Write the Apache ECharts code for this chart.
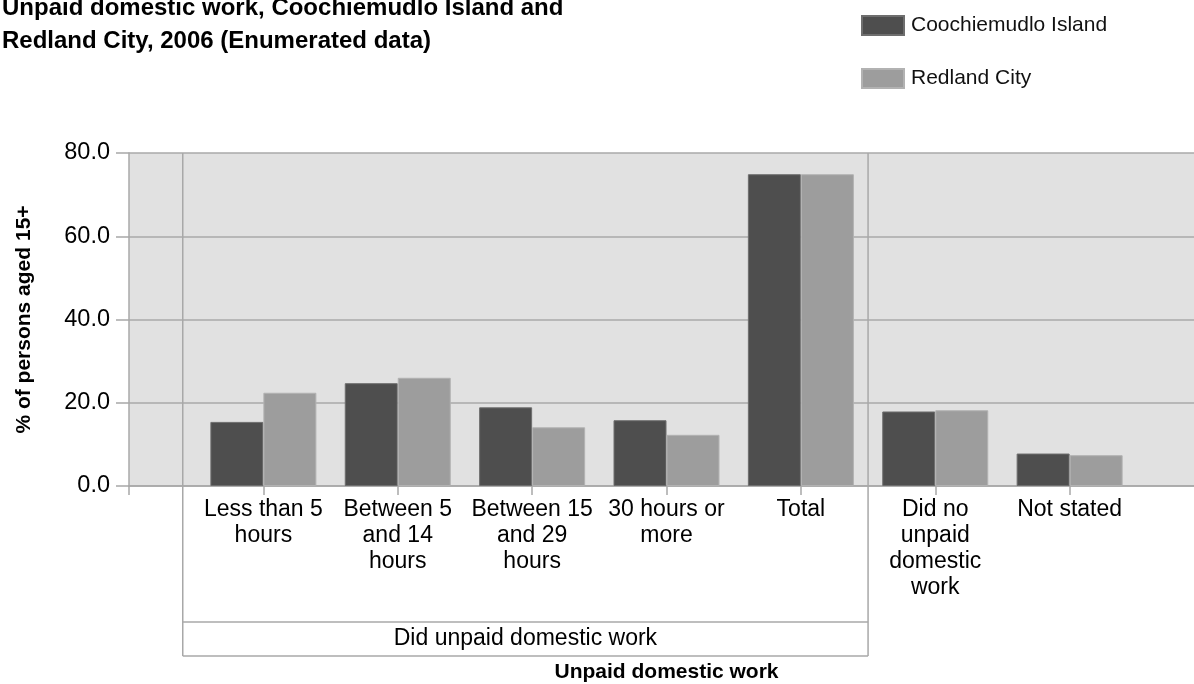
<!DOCTYPE html>
<html>
<head>
<meta charset="utf-8">
<script src="https://cdn.jsdelivr.net/npm/echarts@6/dist/echarts.min.js"></script>
<style>
html,body{margin:0;padding:0;background:#fff;overflow:hidden;width:1194px;height:684px;}
#c{width:1230px;height:684px;}
</style>
</head>
<body>
<div id="c"></div>
<script>
const titleText = 'Unpaid domestic work, Coochiemudlo Island and\nRedland City, 2006 (Enumerated data)';
const categories = ['', 'Less than 5\nhours', 'Between 5\nand 14\nhours', 'Between 15\nand 29\nhours', '30 hours or\nmore', 'Total', 'Did no\nunpaid\ndomestic\nwork', 'Not stated', ''];
const seriesNames = ['Coochiemudlo Island', 'Redland City'];
const coochiemudlo = [null, 15.4, 24.7, 18.9, 15.8, 74.9, 17.9, 7.8, null];
const redland = [null, 22.4, 26.0, 14.1, 12.3, 74.9, 18.2, 7.4, null];
const yMin = 0, yMax = 80, yStep = 20;
const groupLabel = 'Did unpaid domestic work';
const groupFirst = 1, groupLast = 5;
const yName = '% of persons aged 15+';
const xName = 'Unpaid domestic work';

const FONT = 'Liberation Sans, Arial, sans-serif';
const chart = echarts.init(document.getElementById('c'), null, {renderer: 'canvas'});
const lineGray = '#a8a8a8';

chart.setOption({
  animation: false,
  textStyle: {fontFamily: FONT},
  title: {
    text: titleText,
    left: -3, top: -13,
    textStyle: {fontFamily: FONT, fontSize: 24, fontWeight: 'bold', color: '#000', lineHeight: 33}
  },
  legend: {
    orient: 'vertical',
    left: 861, top: 15,
    itemWidth: 42, itemHeight: 19, itemGap: 32,
    icon: 'rect',
    selectedMode: false,
    padding: 0,
    textStyle: {fontFamily: FONT, fontSize: 21, color: '#111', padding: [0,0,0,2]},
    data: seriesNames
  },
  grid: {
    left: 129, top: 153, width: 1075, height: 335,
    show: true, backgroundColor: '#e1e1e1', borderWidth: 0
  },
  xAxis: {
    type: 'category',
    data: categories,
    boundaryGap: false,
    name: xName,
    nameLocation: 'middle',
    nameGap: 176,
    nameTextStyle: {fontFamily: FONT, fontSize: 21, fontWeight: 'bold', color: '#000'},
    axisLine: {show: true, lineStyle: {color: lineGray, width: 1.5}},
    axisTick: {show: true, length: 9, interval: 0, lineStyle: {color: lineGray, width: 1.5}},
    axisLabel: {interval: 0, margin: 11, fontFamily: FONT, fontSize: 23, lineHeight: 26, color: '#000', align: 'center'},
    splitLine: {show: false}
  },
  yAxis: {
    type: 'value',
    min: yMin, max: yMax, interval: yStep,
    name: yName,
    nameLocation: 'middle',
    nameGap: 94,
    nameTextStyle: {fontFamily: FONT, fontSize: 21, fontWeight: 'bold', color: '#000'},
    axisLine: {show: true, lineStyle: {color: lineGray, width: 1.5}},
    axisTick: {show: true, length: 13, lineStyle: {color: lineGray, width: 1.5}},
    axisLabel: {margin: 19, fontFamily: FONT, fontSize: 23.5, color: '#000', formatter: v => v.toFixed(1)},
    splitLine: {show: true, lineStyle: {color: lineGray, width: 1.5}}
  },
  series: [
    {
      name: seriesNames[0], type: 'bar', data: coochiemudlo,
      barWidth: 53, barGap: '0%',
      itemStyle: {color: '#4e4e4e', borderColor: '#6e6e6e', borderWidth: 1}
    },
    {
      name: seriesNames[1], type: 'bar', data: redland,
      barWidth: 53, barGap: '0%',
      itemStyle: {color: '#9d9d9d', borderColor: '#b2b2b2', borderWidth: 1}
    }
  ]
});

// group bracket derived from the axis
const p1 = chart.convertToPixel({xAxisIndex: 0}, groupFirst);
const p2 = chart.convertToPixel({xAxisIndex: 0}, groupFirst + 1);
const pl = chart.convertToPixel({xAxisIndex: 0}, groupLast);
const pn = chart.convertToPixel({xAxisIndex: 0}, groupLast + 1);
const step = p2 - p1;
const L = p1 - 0.6 * step;
const R = (pl + pn) / 2;
const yTop = chart.convertToPixel({yAxisIndex: 0}, yMax);
const midY = 622, botY = 656;
const ls = {stroke: lineGray, lineWidth: 1.5};
chart.setOption({
  graphic: [
    {type: 'line', z: 5, shape: {x1: L, y1: yTop, x2: L, y2: botY}, style: ls},
    {type: 'line', z: 5, shape: {x1: R, y1: yTop, x2: R, y2: botY}, style: ls},
    {type: 'line', z: 5, shape: {x1: L, y1: midY, x2: R, y2: midY}, style: ls},
    {type: 'line', z: 5, shape: {x1: L, y1: botY, x2: R, y2: botY}, style: ls},
    {type: 'text', z: 5, x: (L + R) / 2, y: (midY + botY) / 2,
     style: {text: groupLabel, fontFamily: FONT, fontSize: 23, fill: '#000', align: 'center', verticalAlign: 'middle'}}
  ]
});
</script>
</body>
</html>
